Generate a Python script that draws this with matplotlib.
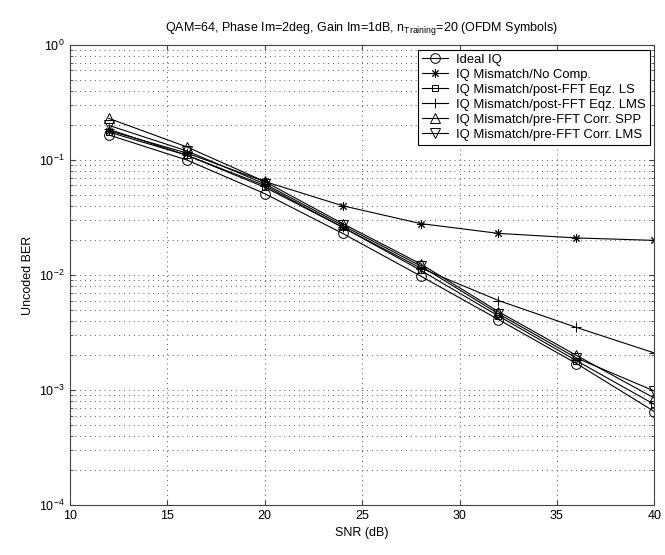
import numpy as np
import matplotlib
matplotlib.use('Agg')
from matplotlib import pyplot as plt

plt.rcParams['font.family'] = ['Liberation Sans', 'DejaVu Sans']
plt.rcParams['mathtext.fontset'] = 'custom'
plt.rcParams['mathtext.rm'] = 'Liberation Sans'
plt.rcParams['mathtext.it'] = 'Liberation Sans'

# SNR (dB)
snr = [12, 16, 20, 24, 28, 32, 36, 40]

# Uncoded BER per scheme
ber_ideal = [0.165, 0.100, 0.051, 0.023, 0.0098, 0.0041, 0.0017, 0.00065]
ber_nocomp = [0.180, 0.115, 0.065, 0.040, 0.028, 0.023, 0.021, 0.020]
ber_post_ls = [0.175, 0.110, 0.058, 0.026, 0.011, 0.0044, 0.0018, 0.00075]
ber_post_lms = [0.185, 0.110, 0.060, 0.026, 0.0115, 0.0060, 0.0035, 0.0021]
ber_pre_spp = [0.230, 0.130, 0.065, 0.028, 0.0125, 0.0048, 0.0020, 0.00085]
ber_pre_lms = [0.200, 0.120, 0.062, 0.027, 0.0120, 0.0046, 0.0019, 0.00098]

labels = ['Ideal IQ', 'IQ Mismatch/No Comp.', 'IQ Mismatch/post-FFT Eqz. LS',
          'IQ Mismatch/post-FFT Eqz. LMS', 'IQ Mismatch/pre-FFT Corr. SPP',
          'IQ Mismatch/pre-FFT Corr. LMS']
series = [ber_ideal, ber_nocomp, ber_post_ls, ber_post_lms, ber_pre_spp, ber_pre_lms]
markers = ['o', (8, 2, 0), 's', '+', '^', 'v']
sizes = [7, 6, 5, 7, 7, 7]

fig = plt.figure(figsize=(6.65, 5.55), dpi=100)
ax = fig.add_axes([0.105, 0.09, 0.879, 0.829])

for y, m, ms, lab in zip(series, markers, sizes, labels):
    ax.semilogy(snr, y, color='black', lw=0.8, marker=m, ms=ms,
                mfc='none', mec='black', mew=0.7, label=lab)

ax.set_xlim(10, 40)
ax.set_ylim(1e-4, 1)
ax.set_xticks([10, 15, 20, 25, 30, 35, 40])
ax.grid(True, which='major', ls=(0, (1, 4)), color='#555555', lw=0.7)
ax.grid(True, which='minor', axis='y', ls=(0, (1, 4)), color='#555555', lw=0.7)
ax.tick_params(which='both', direction='in', top=True, right=True, labelsize=9, color='#444444')
for s in ax.spines.values():
    s.set_color('#444444')
    s.set_linewidth(0.8)

ax.set_xlabel('SNR (dB)', fontsize=9)
ax.set_ylabel('Uncoded BER', fontsize=9)
ax.set_title(r'QAM=64, Phase Im=2deg, Gain Im=1dB, n$_{\mathrm{Training}}$=20 (OFDM Symbols)',
             fontsize=9, pad=10)

leg = ax.legend(loc='upper right', fontsize=9.4, fancybox=False, framealpha=1,
                edgecolor='black', handlelength=2.0, borderaxespad=0.35,
                labelspacing=0.22, borderpad=0.3, handletextpad=0.6)
leg.get_frame().set_linewidth(0.8)

fig.savefig('out.png', dpi=100)
